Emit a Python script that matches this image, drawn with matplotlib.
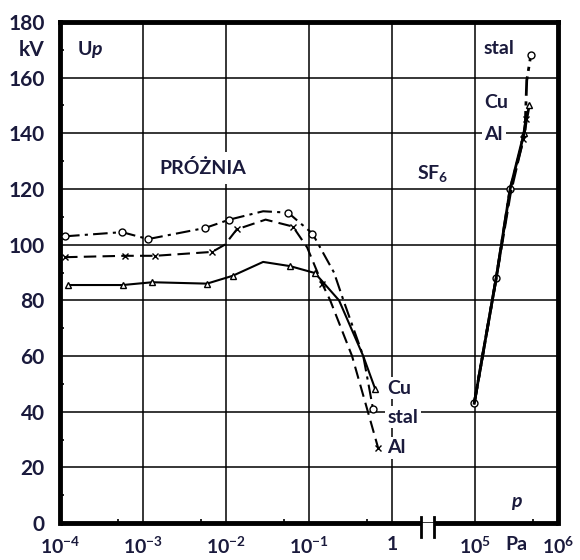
import numpy as np
import matplotlib
matplotlib.use('Agg')
import matplotlib.pyplot as plt

plt.rcParams['font.family'] = ['Lato', 'DejaVu Sans']
plt.rcParams['font.weight'] = 'bold'
plt.rcParams['mathtext.fontset'] = 'custom'
plt.rcParams['mathtext.rm'] = 'Lato:bold'
plt.rcParams['mathtext.it'] = 'Lato:bold:italic'
plt.rcParams['mathtext.bf'] = 'Lato:bold'

TXT = '#1a1a3c'

# --- PROZNIA (vacuum) ---
p_stal_vac = [1.15e-4, 5.6e-4, 1.15e-3, 5.6e-3, 1.1e-2, 2.8e-2, 5.6e-2, 0.11, 0.2, 0.26, 0.45, 0.52, 0.59]
u_stal_vac = [103, 104.5, 102, 106, 109, 112, 111.5, 104, 90, 80, 60, 50, 41]

p_cu_vac = [1.25e-4, 5.7e-4, 1.3e-3, 5.9e-3, 1.2e-2, 2.8e-2, 5.9e-2, 0.118, 0.23, 0.45, 0.63]
u_cu_vac = [85.5, 85.5, 86.5, 86, 88.8, 93.8, 92.3, 89.8, 80, 60, 48]

p_al_vac = [1.15e-4, 6e-4, 1.4e-3, 6.8e-3, 9.7e-3, 1.35e-2, 3e-2, 6.4e-2, 9.5e-2, 0.144, 0.18, 0.33, 0.49, 0.68]
u_al_vac = [95.5, 96, 96, 97.4, 100, 105.5, 109, 106.5, 99, 86, 80, 60, 42, 27]

# --- SF6 ---
p_stal_sf6 = [9e4, 1.8e5, 2.65e5, 4.0e5, 4.2e5, 4.7e5]
u_stal_sf6 = [43, 88, 120, 140, 159, 168]

p_cu_sf6 = [9e4, 1.8e5, 2.65e5, 3.9e5, 4.5e5]
u_cu_sf6 = [43, 88, 120, 140, 150]

p_al_sf6 = [9e4, 1.8e5, 2.65e5, 3.8e5, 4.1e5]
u_al_sf6 = [43, 88, 118, 138, 145]

x_ticks = [1e-4, 1e-3, 1e-2, 1e-1, 1, 1e5, 1e6]
x_labels = ['$10^{-4}$', '$10^{-3}$', '$10^{-2}$', '$10^{-1}$', '1', '$10^{5}$', '$10^{6}$']
y_ticks = [0, 20, 40, 60, 80, 100, 120, 140, 160, 180]


# broken log axis: 1e-4..1 and 1e5..1e6 get one decade each, 1..1e5 squeezed into one
def fwd(p):
    p = np.asarray(p, dtype=float)
    lp = np.log10(np.clip(p, 1e-300, None))
    return np.where(lp <= 0, lp + 4, np.where(lp < 5, 4 + lp / 5, lp))


def inv(u):
    u = np.asarray(u, dtype=float)
    with np.errstate(over='ignore'):
        return np.where(u <= 4, 10 ** (u - 4), np.where(u < 5, 10 ** ((u - 4) * 5), 10 ** u))


fig = plt.figure(figsize=(5.8, 5.6), dpi=100)
ax = fig.add_axes([60 / 580, 1 - 523 / 560, 498 / 580, 501 / 560])
ax.set_xscale('function', functions=(fwd, inv))
ax.set_xlim(1e-4, 1e6)
ax.set_ylim(0, 180)

ax.set_xticks(x_ticks)
ax.set_xticklabels(x_labels)
ax.set_xticks([5e-4, 5e-3, 5e-2, 5e-1, 5e5], minor=True)
ax.set_yticks(y_ticks)
ax.set_yticks(np.arange(10, 180, 20), minor=True)
ax.tick_params(axis='both', which='major', length=0, colors=TXT)
ax.tick_params(axis='x', which='major', pad=9, labelsize=14)
ax.tick_params(axis='y', which='major', pad=11, labelsize=15)
ax.tick_params(which='minor', direction='in', length=3, width=1.2, color='black')
ax.grid(True, which='major', color='black', lw=1.1)
ax.set_axisbelow(True)

for s in ['left', 'right', 'top']:
    ax.spines[s].set_linewidth(3.5)
ax.spines['bottom'].set_visible(False)

# bottom axis with the break between 1 and 1e5
ax.plot([1e-4, 58], [0, 0], color='black', lw=3.5, clip_on=False, solid_capstyle='butt', zorder=5)
ax.plot([340, 1e6], [0, 0], color='black', lw=3.5, clip_on=False, solid_capstyle='butt', zorder=5)
for pb in [58, 340]:
    ax.plot([pb, pb], [-5.2, 2.0], color='black', lw=2, clip_on=False, zorder=5)

# vacuum curves
ax.plot(p_stal_vac, u_stal_vac, color='black', lw=1.5, dashes=(7, 2.5, 1.5, 2.5),
        marker='o', ms=5, mfc='white', mec='black', markevery=[0, 1, 2, 3, 4, 6, 7, 12], zorder=4)
ax.plot(p_cu_vac, u_cu_vac, color='black', lw=1.5, ls='-',
        marker='^', ms=5, mfc='white', mec='black', markevery=[0, 1, 2, 3, 4, 6, 7, 10], zorder=4)
ax.plot(p_al_vac, u_al_vac, color='black', lw=1.5, dashes=(6, 3),
        marker='x', ms=5, mec='black', markevery=[0, 1, 2, 3, 5, 7, 9, 13], zorder=4)

# SF6 curves
ax.plot(p_stal_sf6, u_stal_sf6, color='black', lw=2, dashes=(7, 2, 1.5, 2),
        marker='o', ms=5, mfc='white', mec='black', markevery=[0, 1, 2, 5], zorder=4)
ax.plot(p_cu_sf6, u_cu_sf6, color='black', lw=2, ls='-',
        marker='^', ms=4, mfc='white', mec='black', markevery=[3, 4], zorder=4)
ax.plot(p_al_sf6, u_al_sf6, color='black', lw=2, dashes=(6, 2),
        marker='x', ms=5, mec='black', markevery=[3, 4], zorder=4)

box = dict(fc='white', ec='none', pad=2)
kw = dict(fontsize=14, color=TXT, fontweight='bold', zorder=3)
ax.text(5.3e-3, 127.5, 'PRÓŻNIA', ha='center', va='center', bbox=dict(fc='white', ec='none', pad=5), **kw)
ax.text(34, 125.5, 'SF$_6$', ha='left', va='center', **kw)
ax.text(1.6e-4, 170, 'U$\\mathit{p}$', ha='left', va='center', **kw)
ax.text(3.2e5, 7, '$\\mathit{p}$', ha='center', va='center', **kw)
ax.text(0.88, 48.5, 'Cu', ha='left', va='center', bbox=box, **kw)
ax.text(0.88, 38, 'stal', ha='left', va='center', bbox=box, **kw)
ax.text(0.88, 27, 'Al', ha='left', va='center', bbox=box, **kw)
ax.text(1.26e5, 170.5, 'stal', ha='left', va='center', bbox=box, **kw)
ax.text(1.3e5, 151, 'Cu', ha='left', va='center', bbox=box, **kw)
ax.text(1.3e5, 139.5, 'Al', ha='left', va='center', bbox=box, **kw)

# unit labels next to the tick labels
ax.annotate('kV', xy=(0, 170), xycoords=('axes fraction', 'data'), xytext=(-11, 0),
            textcoords='offset points', ha='right', va='center', fontsize=15, color=TXT)
ax.annotate('Pa', xy=(10 ** 5.5, 0), xycoords=('data', 'axes fraction'), xytext=(0, -9),
            textcoords='offset points', ha='center', va='top', fontsize=14, color=TXT)

fig.savefig('out.png', dpi=100)
